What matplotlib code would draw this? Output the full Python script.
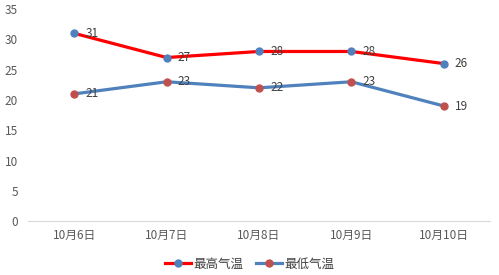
import matplotlib
matplotlib.use("Agg")
import matplotlib.pyplot as plt

plt.rcParams['font.family'] = ['Noto Sans CJK SC', 'DejaVu Sans']

dates = ["10月6日", "10月7日", "10月8日", "10月9日", "10月10日"]
high = [31, 27, 28, 28, 26]
low = [21, 23, 22, 23, 19]
yticks = [0, 5, 10, 15, 20, 25, 30, 35]

fig = plt.figure(figsize=(4.99, 2.75), dpi=100)
ax = fig.add_axes([0.056, 0.196, 0.926, 0.771])

x = list(range(len(dates)))
ax.plot(x, high, color="#FF0000", lw=2.3, marker="o", ms=5,
        mfc="#4F81BD", mec="#4F81BD", label="最高气温", zorder=3)
ax.plot(x, low, color="#4F81BD", lw=2.3, marker="o", ms=5,
        mfc="#C0504D", mec="#C0504D", label="最低气温", zorder=3)

for xi, v in zip(x, high):
    ax.annotate(str(v), (xi, v), xytext=(8, 0), textcoords="offset points",
                va="center", ha="left", fontsize=8.5, color="#404040")
for xi, v in zip(x, low):
    ax.annotate(str(v), (xi, v), xytext=(8, 0), textcoords="offset points",
                va="center", ha="left", fontsize=8.5, color="#404040")

ax.set_xlim(-0.5, len(dates) - 0.5)
ax.set_ylim(0, 35)
ax.set_yticks(yticks)
ax.set_xticks(x)
ax.set_xticklabels(dates)
for s in ["top", "right", "left"]:
    ax.spines[s].set_visible(False)
ax.spines["bottom"].set_color("#D9D9D9")
ax.tick_params(axis="both", length=0, labelsize=8.5, colors="#595959")
ax.tick_params(axis="x", pad=6)
ax.tick_params(axis="y", pad=7)

fig.legend(loc="lower center", bbox_to_anchor=(0.5, -0.025), ncol=2, frameon=False,
           fontsize=9, labelcolor="#404040", handlelength=2.1, handletextpad=0.2,
           columnspacing=1.0)

fig.savefig("out.png", dpi=100)
